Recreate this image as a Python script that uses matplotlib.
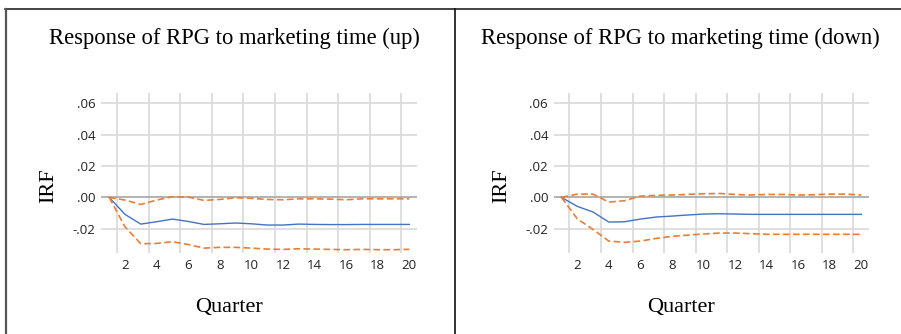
import numpy as np
import matplotlib
matplotlib.use('Agg')
import matplotlib.pyplot as plt
from matplotlib.lines import Line2D

# quarters 1..20
quarter = np.arange(1, 21)

# response of RPG to marketing time (up)
up_irf = [0, -0.0108, -0.0170, -0.0155, -0.0138, -0.0153, -0.0172, -0.0168, -0.0163, -0.0168,
          -0.0176, -0.0176, -0.0170, -0.0172, -0.0173, -0.0173, -0.0172, -0.0172, -0.0172, -0.0172]
up_hi = [0, -0.0017, -0.0045, -0.0017, 0.0004, 0.0002, -0.0019, -0.0013, -0.0002, -0.0006,
         -0.0013, -0.0015, -0.0009, -0.0009, -0.0011, -0.0015, -0.0009, -0.0009, -0.0009, -0.0009]
up_lo = [0, -0.0187, -0.0295, -0.0293, -0.0282, -0.0300, -0.0323, -0.0318, -0.0318, -0.0323,
         -0.0329, -0.0331, -0.0327, -0.0329, -0.0331, -0.0333, -0.0331, -0.0333, -0.0333, -0.0331]

# response of RPG to marketing time (down)
down_irf = [0, -0.0057, -0.0093, -0.0157, -0.0155, -0.0138, -0.0125, -0.0119, -0.0112, -0.0106,
            -0.0104, -0.0106, -0.0108, -0.0108, -0.0108, -0.0108, -0.0108, -0.0108, -0.0108, -0.0108]
down_hi = [0, 0.0021, 0.0021, -0.0030, -0.0021, 0.0008, 0.0013, 0.0015, 0.0019, 0.0023,
           0.0025, 0.0019, 0.0015, 0.0019, 0.0019, 0.0015, 0.0017, 0.0021, 0.0021, 0.0015]
down_lo = [0, -0.0136, -0.0204, -0.0278, -0.0286, -0.0278, -0.0261, -0.0248, -0.0240, -0.0233,
           -0.0227, -0.0227, -0.0231, -0.0235, -0.0235, -0.0235, -0.0235, -0.0235, -0.0235, -0.0235]

titles = ['Response of RPG to marketing time (up)', 'Response of RPG to marketing time (down)']
yticks = [-0.02, 0.0, 0.02, 0.04, 0.06]
ytick_labels = ['-.02', '.00', '.02', '.04', '.06']
xticks = list(range(2, 21, 2))

W, H = 901, 334
BLUE, ORANGE = '#4472C4', '#ED7D31'
GRID, ZERO = '#D9D9D9', '#A6A6A6'
SERIF = 'Liberation Serif'
SANS = 'Open Sans'

fig = plt.figure(figsize=(W / 100, H / 100), dpi=100)
fig.patch.set_facecolor('white')

# table-cell borders
fig.add_artist(Line2D([5 / W, 1], [1 - 8.5 / H] * 2, color='#222222', lw=1.2))
fig.add_artist(Line2D([6 / W] * 2, [0, 1 - 8.5 / H], color='#555555', lw=1.6))
fig.add_artist(Line2D([454.5 / W] * 2, [0, 1 - 8.5 / H], color='#111111', lw=1.2))

panels = [(101.3, 417.2, 234, 16.3, up_irf, up_hi, up_lo),
          (553.6, 869.2, 680, 16.3, down_irf, down_hi, down_lo)]
top_px, bot_px = 92.5, 253

for (x0, x1, tcx, tsize, irf, hi, lo), title in zip(panels, titles):
    ax = fig.add_axes([x0 / W, 1 - bot_px / H, (x1 - x0) / W, (bot_px - top_px) / H])
    ax.set_xlim(0.5, 20.5)
    ax.set_ylim(-0.0354, 0.0668)
    for sp in ax.spines.values():
        sp.set_visible(False)
    for y in yticks:
        ax.axhline(y, color=ZERO if y == 0 else GRID, lw=1.2, zorder=1)
    for xv in np.arange(1.5, 20, 2):
        ax.axvline(xv, color=GRID, lw=1.2, zorder=0)
    ax.plot(quarter, irf, color=BLUE, lw=1.0, zorder=3)
    ax.plot(quarter, hi, color=ORANGE, lw=1.2, dashes=(4, 2), zorder=3)
    ax.plot(quarter, lo, color=ORANGE, lw=1.2, dashes=(4, 2), zorder=3)
    ax.set_yticks(yticks, ytick_labels)
    ax.set_xticks(xticks, [str(v) for v in xticks])
    ax.tick_params(length=0, labelsize=9.5, labelcolor='#222222', pad=4)
    for lab in ax.get_xticklabels() + ax.get_yticklabels():
        lab.set_fontfamily(SANS)
    ax.set_ylabel('IRF', fontfamily=SERIF, fontsize=16)
    ax.yaxis.set_label_coords(-0.135, 0.42)
    ax.set_xlabel('Quarter', fontfamily=SERIF, fontsize=16)
    ax.xaxis.set_label_coords(0.404, -0.28)
    fig.text(tcx / W, 1 - 38 / H, title, fontfamily=SERIF, fontsize=tsize,
             ha='center', va='center')

fig.savefig('out.png', dpi=100)
